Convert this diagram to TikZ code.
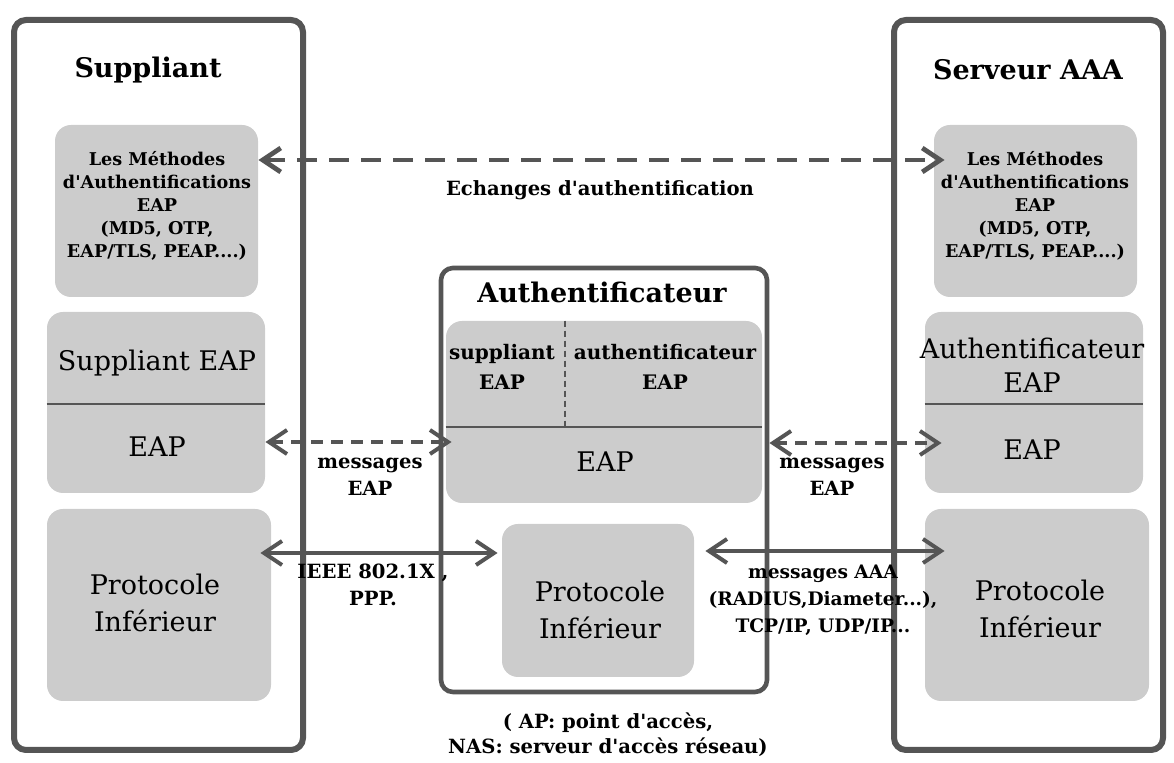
\documentclass[tikz,border=0pt]{standalone}
\usepackage{fontspec}
\setmainfont{DejaVu Serif}[Ligatures=TeXOff]
\usetikzlibrary{arrows.meta,fit}
\definecolor{frame}{HTML}{555555}
\definecolor{layer}{HTML}{CCCCCC}

\begin{document}
\begin{tikzpicture}[x=0.5pt,y=-0.5pt,
  entity/.style={draw=frame, line width=3pt, rounded corners=6pt, inner sep=0pt},
  layerbox/.style={fill=layer, draw=none, rounded corners=8pt, inner sep=0pt},
  divider/.style={draw=frame, line width=1.1pt},
  splitline/.style={draw=frame, line width=1.4pt, dash pattern=on 3pt off 2pt},
  solidlink/.style={draw=frame, line width=2pt, {Straight Barb[length=9pt,width=12pt]}-{Straight Barb[length=9pt,width=12pt]}},
  dashlink/.style={solidlink, dash pattern=on 6pt off 4pt},
  longdash/.style={solidlink, line width=2.4pt, dash pattern=on 10pt off 6pt},
  heading/.style={font=\bfseries\fontsize{13.5}{16}\selectfont, inner sep=0pt},
  method/.style={font=\bfseries\fontsize{8.8}{11.5}\selectfont, align=center, inner sep=0pt},
  layertext/.style={font=\fontsize{13.5}{17}\selectfont, align=center, inner sep=0pt},
  proto/.style={font=\fontsize{13.5}{18.5}\selectfont, align=center, inner sep=0pt},
  sublayer/.style={font=\bfseries\fontsize{10}{15}\selectfont, align=center, inner sep=0pt},
  msg/.style={font=\bfseries\fontsize{9.8}{13.5}\selectfont, align=center, inner sep=0pt}]

\useasboundingbox (0,0) rectangle (1174,763);

% ---- entities
\node[entity, fit={(14,20)(303,750)}] (sup) {};
\node[entity, fit={(894,20)(1163,750)}] (srv) {};
\node[entity, line width=2.3pt, fit={(441,268)(767,692)}] (auth) {};

% ---- supplicant layers
\node[layerbox, fit={(55,125)(258,297)}] (lmeth) {};
\node[layerbox, fit={(47,312)(265,493)}] (leap) {};
\node[layerbox, fit={(47,509)(271,701)}] (lproto) {};
\draw[divider] (leap.west |- 0,404) -- (leap.east |- 0,404);

% ---- authenticator layers
\node[layerbox, fit={(446,321)(762,503)}] (aeap) {};
\node[layerbox, fit={(502,524)(694,677)}] (aproto) {};
\draw[divider] (aeap.west |- 0,427) -- (aeap.east |- 0,427);
\draw[splitline] (565,0 |- aeap.north) -- (565,427);

% ---- server layers
\node[layerbox, fit={(934,125)(1137,297)}] (rmeth) {};
\node[layerbox, fit={(925,312)(1143,493)}] (reap) {};
\node[layerbox, fit={(925,509)(1149,701)}] (rproto) {};
\draw[divider] (reap.west |- 0,404) -- (reap.east |- 0,404);

% ---- titles
\node[heading] (tsup) at (148,70) {Suppliant};
\node[heading] (tsrv) at (1028,70) {Serveur AAA};
\node[heading] (tauth) at (602,292) {Authentificateur};

% ---- layer texts
\node[method] (lmtext) at (157,206) {Les Méthodes\\d'Authentifications\\EAP\\(MD5, OTP,\\EAP/TLS, PEAP....)};
\node[method] (rmtext) at (1035,206) {Les Méthodes\\d'Authentifications\\EAP\\(MD5, OTP,\\EAP/TLS, PEAP....)};
\node[layertext] (lsupp) at (157,363) {Suppliant EAP};
\node[layertext] (leapt) at (157,447) {EAP};
\node[proto] (lprot) at (155,603) {Protocole\\Inférieur};
\node[sublayer] (asupp) at (502,367) {suppliant\\EAP};
\node[sublayer] (aauth) at (665,367) {authentificateur\\EAP};
\node[layertext] (aeapt) at (605,462) {EAP};
\node[proto] (aprot) at (600,610) {Protocole\\Inférieur};
\node[layertext] (rauth) at (1032,365) {Authentificateur\\EAP};
\node[layertext] (reapt) at (1032,450) {EAP};
\node[proto] (rprot) at (1040,609) {Protocole\\Inférieur};

% ---- exchanges
\draw[longdash, shorten >=-5.5pt] (lmeth.east |- 0,160) -- (rmeth.west |- 0,160);
\node[msg] (xech) at (600,190) {Echanges d'authentification};

\draw[dashlink, shorten >=-3pt] (leap.east |- 0,442) -- (aeap.west |- 0,442);
\node[msg] (lmsg) at (370,477) {messages\\EAP};

\draw[dashlink, shorten <=3.5pt, shorten >=-8.5pt] (aeap.east |- 0,443) -- (reap.west |- 0,443);
\node[msg] (rmsg) at (832,477) {messages\\EAP};

\draw[solidlink, shorten <=-5.5pt, shorten >=2pt] (lproto.east |- 0,553) -- (aproto.west |- 0,553);
\node[msg] (lieee) at (373,585) {IEEE 802.1X ,\\PPP.};

\draw[solidlink, shorten <=5.5pt, shorten >=-10pt] (aproto.east |- 0,551) -- (rproto.west |- 0,551);
\node[msg, font=\bfseries\fontsize{9.3}{13.5}\selectfont] (raaa) at (823,600) {messages AAA\\(RADIUS,Diameter...),\\TCP/IP, UDP/IP...};

% ---- note under the authenticator
\node[msg, font=\bfseries\fontsize{9.8}{12.5}\selectfont] (note) at (608,735) {( AP: point d'accès,\\NAS: serveur d'accès réseau)};

\end{tikzpicture}
\end{document}
